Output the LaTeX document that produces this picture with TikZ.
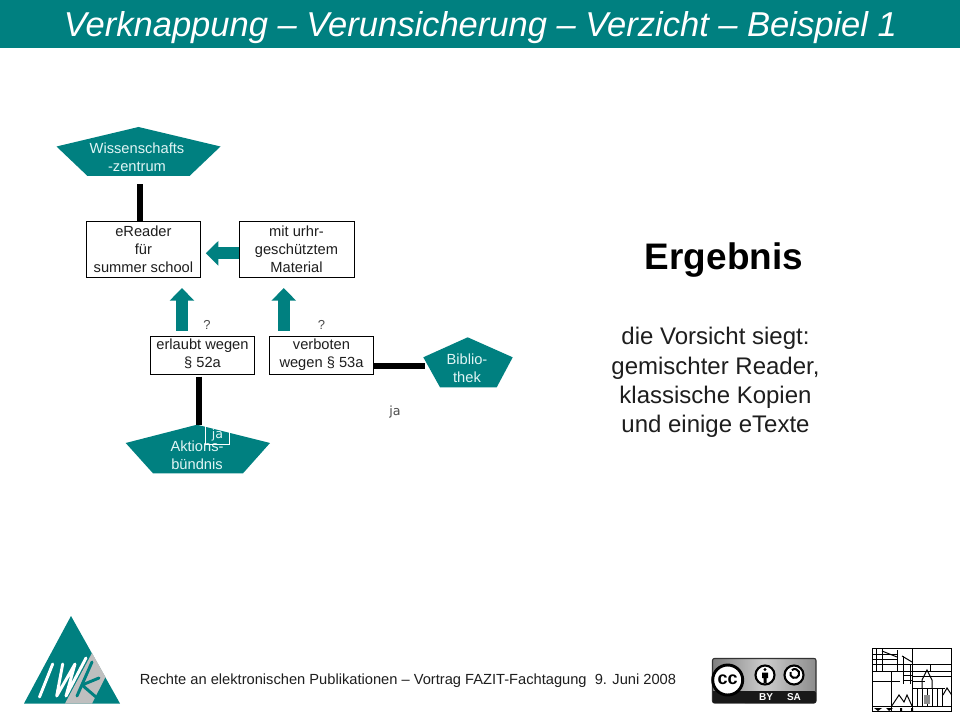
\documentclass[tikz,border=0pt]{standalone}
\usepackage{fontspec}
\setmainfont{Liberation Sans}
\newfontfamily\jafont{DejaVu Sans}
\usetikzlibrary{arrows.meta,calc}
\definecolor{teal1}{RGB}{0,128,128}
\definecolor{txt}{RGB}{30,30,30}
\definecolor{pale}{RGB}{225,245,245}
\tikzset{
  x=0.75pt,y=-0.75pt,
  boxn/.style={draw=black,line width=0.6pt,fill=white,align=center,text=txt,inner sep=0pt,
    font=\fontsize{11}{13.4}\selectfont},
  pentlabel/.style={align=center,text=pale,inner sep=0pt,font=\fontsize{11}{13.4}\selectfont},
  bar/.style={line width=4.5pt,black},
  fatarrow/.style={line width=9pt,teal1,-{Triangle[length=9.5pt,width=18pt]}},
  pent/.style={fill=teal1,draw=none},
  plain/.style={text=txt,inner sep=0pt},
  iconline/.style={line width=0.75pt,black},
  logostroke/.style={line width=2.2pt,white,line cap=round,line join=round},
}
\begin{document}
\begin{tikzpicture}
\useasboundingbox (0,0) rectangle (960,720);
\fill[white] (0,0) rectangle (960,720);
% title bar
\fill[teal1] (0,0) rectangle (960,48);
\node[text=white,inner sep=0pt,font=\fontsize{25.9}{28}\selectfont\itshape] (title) at (480.5,28) {Verknappung – Verunsicherung – Verzicht – Beispiel 1};
% pentagons
\fill[pent] (138.5,127) -- (220.5,146.5) -- (189.5,176) -- (87.5,176) -- (56.5,146.5) -- cycle;
\fill[pent] (467.7,337.3) -- (512.7,357.3) -- (496.7,387.3) -- (440,387.3) -- (423.3,357.3) -- cycle;
\fill[pent] (197,424.7) -- (270,443) -- (243,473.3) -- (153,473.3) -- (125.7,443) -- cycle;
% boxes
\node[boxn,minimum width=85.5pt,minimum height=42pt] (er) at (143.4,249) {eReader\\für\\summer school};
\node[boxn,minimum width=86.2pt,minimum height=42pt] (mu) at (296.5,249) {mit urhr-\\geschütztem\\Material};
\node[boxn,minimum width=78.3pt,minimum height=29pt] (erl) at (202.5,355.3) {erlaubt wegen\strut\\§ 52a\strut};
\node[boxn,minimum width=78.3pt,minimum height=29pt] (ver) at (321.5,355.3) {verboten\strut\\wegen § 53a\strut};
% pentagon labels
\node[pentlabel] (wz) at (137,157.5) {Wissenschafts\\-zentrum};
\node[pentlabel] (bib) at (467,368) {Biblio-\\thek};
\node[pentlabel] (akt) at (197,455) {Aktions-\\bündnis};
% connectors
\draw[bar] ([xshift=2.3pt]wz.south) ++(0,12) coordinate (b1) -- (b1 |- er.north);
\draw[bar,shorten >=11.5pt] ([xshift=-2.6pt]erl.south) ++(0,1.5) coordinate (b2) -- (b2 |- akt.north);
\draw[bar] (ver.east) ++(0,11) coordinate (b3) -- ++(51,0);
\draw[fatarrow,shorten <=3.6pt,shorten >=8pt] ([xshift=-15.4pt]erl.north) coordinate (a1) -- (a1 |- er.south);
\draw[fatarrow,shorten <=3.6pt,shorten >=8pt] ([xshift=-28.3pt]ver.north) coordinate (a2) -- (a2 |- mu.south);
\draw[fatarrow,shorten >=3.7pt] ([yshift=-3.2pt]mu.west) coordinate (a3) -- (a3 -| er.east);
% small labels
\node[plain,font=\fontsize{9.75}{12}\selectfont,text=black!70] (q1) at (207,325) {?};
\node[plain,font=\fontsize{9.75}{12}\selectfont,text=black!70] (q2) at (321.5,325) {?};
\node[plain,font=\jafont\fontsize{9.5}{12}\selectfont,text=black!70] (ja1) at (395,412.5) {ja};
\node[draw=white,line width=0.6pt,minimum width=17.7pt,minimum height=14pt,inner sep=0pt,font=\jafont\fontsize{9.5}{12}\selectfont,text=pale] (ja2) at (217.5,435.3) {ja};
% right text
\node[inner sep=0pt,font=\fontsize{27.7}{32}\selectfont\bfseries,text=black] (erg) at (724,260) {Ergebnis};
\node[align=center,inner sep=0pt,text=txt,font=\fontsize{18}{22}\selectfont] (res) at (715.5,382.5) {die Vorsicht siegt:\\gemischter Reader,\\klassische Kopien\\und einige eTexte};
% footer
\node[inner sep=0pt,text=txt,font=\fontsize{11}{13}\selectfont] (foot) at (408,681) {Rechte an elektronischen Publikationen – Vortrag FAZIT-Fachtagung\ \ 9. Juni 2008};
% IWK logo
\fill[teal1] (71,616) -- (120,703.5) -- (24,703.5) -- cycle;
\fill[black!25] (92,653) -- (105.5,677) -- (92,703.5) -- (65,703.5) -- cycle;
\draw[logostroke] (52.7,664) -- (39.5,697);
\draw[logostroke] (62.7,664) -- (56.7,696) -- (75,664) -- (66,696) -- (86,658);
\draw[logostroke,teal1] (92,662) -- (77,696);
\draw[logostroke,teal1] (99,678) -- (82,685) -- (96,697);
% CC badge
\begin{scope}
\fill[black!30] (713,658) rectangle (816,703);
\shade[rounded corners=1.5pt,left color=black!50,right color=black!45,middle color=black!20,draw=black!80,line width=0.8pt] (712.5,658.5) rectangle (816,703);
\fill[black!90,rounded corners=1.5pt] (743,691) rectangle (816,703);
\fill[black!90] (712.5,691) rectangle (745,703);
\fill[white,draw=black,line width=2.2pt] (727.7,680) circle (15);
\fill[white] (727.7,680) circle (10);
\node[inner sep=0pt,font=\fontsize{13.5}{14}\selectfont\bfseries,text=black] (cc) at (727.7,679.5) {cc};
\fill[white,draw=black,line width=1.6pt] (765,675) circle (9.5);
\fill[black] (765,669.5) circle (1.7);
\fill[black] (762,672.5) rectangle (768,678) (763.5,678) rectangle (766.5,683);
\fill[white,draw=black,line width=1.6pt] (794,675) circle (9.5);
\draw[black,line width=1.5pt] (790.5,672) arc (200:-130:4.5);
\node[inner sep=0pt,font=\fontsize{7.5}{8}\selectfont\bfseries,text=white] (by) at (766,697) {BY};
\node[inner sep=0pt,font=\fontsize{7.5}{8}\selectfont\bfseries,text=white] (sa) at (794,697) {SA};
\end{scope}
% line-art icon
\draw[line width=1.1pt,black] (872.3,648.3) rectangle (951.7,711.7);
\draw[iconline] (872.3,671.7) -- (951.7,671.7);
\draw[iconline] (872.3,681.7) -- (900,681.7);
\draw[iconline] (872.3,706) -- (951.7,706);
\draw[iconline] (912.3,648.3) -- (912.3,711.7);
\draw[iconline] (891.7,671.7) -- (891.7,711.7);
\draw[iconline] (876,648.3) -- (876,671.7) (882,648.3) -- (882,671.7) (897,650) -- (897,671.7);
\draw[iconline] (872.3,654) -- (897,654) (872.3,659) -- (897,659) (872.3,664) -- (912,664);
\draw[iconline] (882,651) -- (897,657) (902,656) -- (912,662);
\draw[iconline] (903,656) -- (903,684) (910,664) -- (910,684) (903,675) -- (912,675) (903,680) -- (912,680);
\draw[iconline] (912,664) -- (952,664) (930,664) -- (930,671.7) (912,676) -- (951.7,676) (912,681) -- (925,681) (930,676) -- (951.7,676);
\draw[iconline] (917,688) -- (917,706) (922,688) -- (922,706) (927,688) -- (927,706) (932,688) -- (932,706) (937,688) -- (937,706) (942,688) -- (942,706);
\draw[iconline] (912,688) -- (945,688);
\draw[iconline] (922,688) -- (922,680) -- (927,670) -- (932,680) -- (932,688);
\fill[black!45] (924,695) rectangle (930,704);
\draw[iconline] (891.7,706) -- (899,695) -- (904,702) -- (907,695) -- (912,706);
\draw[iconline] (943,695) -- (947,688) -- (951.7,695);
\fill[black] (874,708) -- (882,708) -- (878,711) -- cycle (886,708) -- (893,708) -- (889,711) -- cycle (900,708) rectangle (902,711) (911,708) rectangle (913,711);
\end{tikzpicture}
\end{document}
